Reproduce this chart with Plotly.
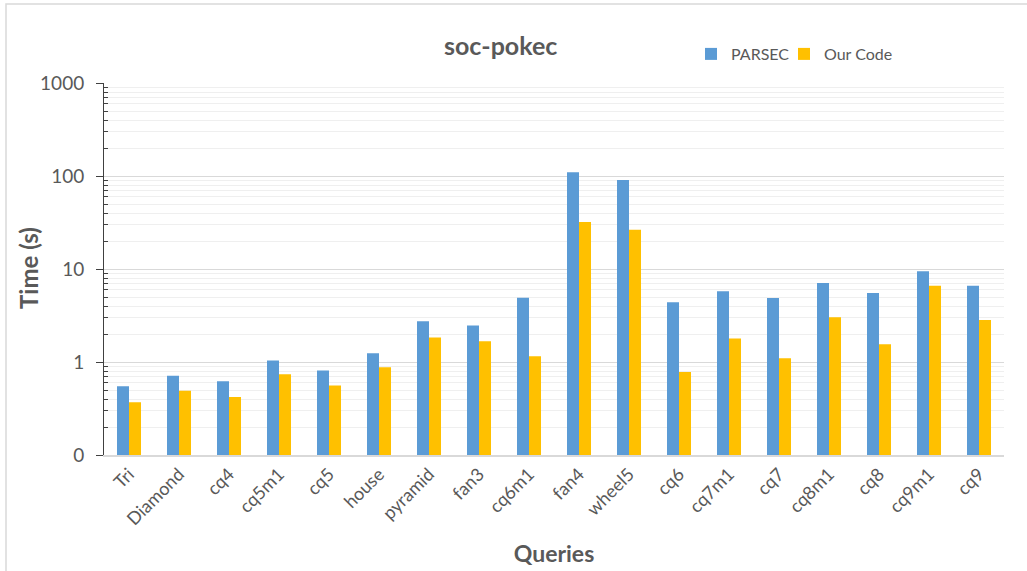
import plotly.graph_objects as go

# Query workloads on the soc-pokec graph
queries = ["Tri", "Diamond", "cq4", "cq5m1", "cq5", "house", "pyramid", "fan3",
           "cq6m1", "fan4", "wheel5", "cq6", "cq7m1", "cq7", "cq8m1", "cq8",
           "cq9m1", "cq9"]

# Runtime in seconds
parsec_time = [0.55, 0.71, 0.62, 1.04, 0.81, 1.24, 2.74, 2.47, 4.9, 110.0,
               90.5, 4.38, 5.75, 4.87, 7.07, 5.52, 9.45, 6.62]
ourcode_time = [0.37, 0.49, 0.42, 0.74, 0.56, 0.88, 1.83, 1.67, 1.15, 32.0,
                26.5, 0.78, 1.79, 1.10, 3.03, 1.55, 6.62, 2.83]

# Log axis ticks (the 0.1 floor is labelled "0")
y_tickvals = [0.1, 1, 10, 100, 1000]
y_ticktext = ["0", "1", "10", "100", "1000"]

TEXT = "#595959"
FONT = "Lato"

# plot-area geometry in pixels
L, R, T, B = 104, 23, 83, 116
W, H = 1027, 571
PW, PH = W - L - R, H - T - B


def px_x(p):
    return (p - L) / PW


def px_y(p):
    return (H - B - p) / PH


minor_vals = [m * 10 ** e for e in (-1, 0, 1, 2) for m in range(2, 10)]

fig = go.Figure()
fig.add_trace(go.Bar(x=queries, y=parsec_time, name="PARSEC", legend="legend",
                     marker=dict(color="#5B9BD5", line=dict(width=0))))
fig.add_trace(go.Bar(x=queries, y=ourcode_time, name="Our Code", legend="legend2",
                     marker=dict(color="#FFC000", line=dict(width=0))))

legend_style = dict(orientation="h", xanchor="left", yanchor="middle",
                    font=dict(size=16, color=TEXT), itemwidth=30,
                    bgcolor="rgba(0,0,0,0)")

fig.update_layout(
    width=W, height=H,
    margin=dict(l=L, r=R, t=T, b=B, autoexpand=False),
    paper_bgcolor="white", plot_bgcolor="white",
    font=dict(family=FONT, color=TEXT),
    barmode="group", bargap=0.52, bargroupgap=0,
    showlegend=True,
    legend=dict(x=px_x(691), y=px_y(54), **legend_style),
    legend2=dict(x=px_x(784), y=px_y(54), **legend_style),
    xaxis=dict(
        tickangle=-45, tickfont=dict(size=18, color=TEXT),
        showline=True, linecolor="#d9d9d9", linewidth=1.5,
        ticks="", showgrid=False,
        title=dict(text="<b>Queries</b>", font=dict(size=23, color=TEXT), standoff=18),
    ),
    yaxis=dict(
        type="log", range=[-1, 3],
        tickvals=y_tickvals, ticktext=y_ticktext,
        tickfont=dict(size=19, color=TEXT), ticklabelstandoff=8,
        showline=True, linecolor="#404040", linewidth=1,
        ticks="outside", ticklen=7, tickcolor="#404040",
        showgrid=True, gridcolor="#d9d9d9", gridwidth=1.3,
        zeroline=False,
        minor=dict(tickvals=minor_vals, ticks="inside", ticklen=4,
                   tickcolor="#404040", showgrid=True, gridcolor="#efefef",
                   gridwidth=1),
    ),
)

fig.add_annotation(text="<b>Time (s)</b>", xref="paper", yref="paper",
                   x=px_x(28), y=px_y(268), textangle=-90,
                   showarrow=False, font=dict(size=24, color=TEXT),
                   xanchor="center", yanchor="middle")

fig.add_annotation(text="<b>soc-pokec</b>", xref="paper", yref="paper",
                   x=px_x(500), y=px_y(45),
                   showarrow=False, font=dict(size=25, color=TEXT),
                   xanchor="center", yanchor="middle")

# Chart frame
fig.add_shape(type="rect", xref="paper", yref="paper",
              x0=px_x(6), x1=1.2, y0=-0.5, y1=px_y(4),
              line=dict(color="#d9d9d9", width=1.5), fillcolor="rgba(0,0,0,0)",
              layer="below")

fig.write_html("out.html")
